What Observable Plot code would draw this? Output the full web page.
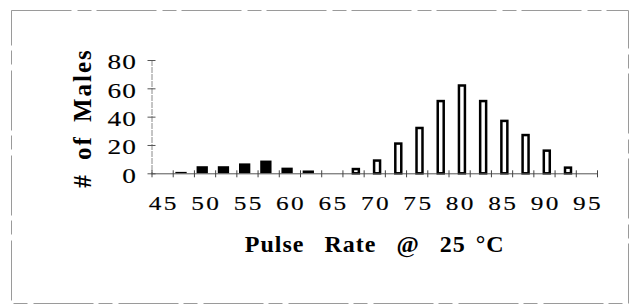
<!DOCTYPE html>
<html>
<head>
<meta charset="utf-8">
<script src="https://cdn.jsdelivr.net/npm/d3@7"></script>
<script src="https://cdn.jsdelivr.net/npm/@observablehq/plot@0.6"></script>
<style>
  html, body { margin: 0; padding: 0; background: #fff; }
  #chart svg { display: block; }
</style>
</head>
<body>
<div id="chart"></div>
<script>
// Pulse-rate classes (bin centres, step 2.5)
const categories = [45, 47.5, 50, 52.5, 55, 57.5, 60, 62.5, 65, 67.5, 70, 72.5, 75, 77.5, 80, 82.5, 85, 87.5, 90, 92.5, 95];
const step = 2.5;
// Series A (filled black bars)
const rateA = [47.5, 50, 52.5, 55, 57.5, 60, 62.5];
const countA = [1, 5, 5, 7, 9, 4, 2];
// Series B (open bars)
const rateB = [67.5, 70, 72.5, 75, 77.5, 80, 82.5, 85, 87.5, 90, 92.5];
const countB = [3, 9, 21, 32, 51, 62, 51, 37, 27, 16, 4];
// Tick labels
const xTickLabels = [45, 50, 55, 60, 65, 70, 75, 80, 85, 90, 95];
const yTickLabels = [0, 20, 40, 60, 80];
const xTitle = "Pulse  Rate  @  25 °C";
const yTitle = "# of Males";

const dataA = rateA.map((r, i) => ({rate: r, count: countA[i]}));
const dataB = rateB.map((r, i) => ({rate: r, count: countB[i]}));
const boundaries = categories.map(c => c - step / 2).concat([categories[categories.length - 1] + step / 2]);

const font = "'Liberation Serif', 'Times New Roman', serif";

const chart = Plot.plot({
  width: 631,
  height: 305,
  marginLeft: 151.5,
  marginRight: 34,
  marginTop: 60,
  marginBottom: 131.7,
  style: {fontFamily: font, background: "#fff", color: "#000", overflow: "visible"},
  x: {domain: [categories[0] - step / 2, categories[categories.length - 1] + step / 2]},
  y: {domain: [0, 80]},
  marks: [
    Plot.frame({anchor: "left", stroke: "#8a8a8a", strokeDasharray: "5 2"}),
    Plot.rectY(dataA, {x1: d => d.rate - step / 2, x2: d => d.rate + step / 2, y: "count", fill: "#000", insetLeft: 2.65, insetRight: 7.26}),
    Plot.rectY(dataB, {x1: d => d.rate - step / 2, x2: d => d.rate + step / 2, y: "count", fill: "#fff", stroke: "#000", strokeWidth: 2.5, insetLeft: 10.45, insetRight: 4.8}),
    Plot.ruleY([0], {stroke: "#555", strokeWidth: 1}),
    Plot.axisX({ticks: boundaries, tickSize: 7, dy: -3, fill: "none", label: null, stroke: "#444"}),
    Plot.axisX({ticks: xTickLabels, tickSize: 0, tickPadding: 22.4, fontSize: 19.5, label: null, tickFormat: d => String(d), dx: 1.2}),
    Plot.axisY({ticks: yTickLabels, tickSize: 8, dx: 4, fill: "none", label: null, stroke: "#555"}),
    Plot.axisY({ticks: yTickLabels, tickSize: 0, tickPadding: 14.7, fontSize: 21, label: null, dy: 2}),
    Plot.text([xTitle], {frameAnchor: "bottom", dy: 78.4, lineAnchor: "bottom", textAnchor: "middle", fontSize: 24, fontWeight: "bold"}),
    Plot.text([yTitle], {frameAnchor: "left", rotate: -90, dx: -61, dy: 0.85, lineAnchor: "bottom", textAnchor: "middle", fontSize: 25, fontWeight: "bold"})
  ]
});

function stretch(el, sx, sy) {
  const t = el.getAttribute("transform") || "";
  const x = parseFloat(el.getAttribute("x")) || 0;
  const y = parseFloat(el.getAttribute("y")) || 0;
  el.setAttribute("transform", `${t} translate(${x},${y}) scale(${sx},${sy}) translate(${-x},${-y})`);
}

const xStrings = new Set(xTickLabels.map(String));
const yStrings = new Set(yTickLabels.map(String));
chart.querySelectorAll("text").forEach(el => {
  const s = el.textContent.trim();
  const isY = el.getAttribute("text-anchor") === "end" || (el.parentNode && el.parentNode.getAttribute("text-anchor") === "end");
  if (yStrings.has(s) && isY) {
    el.style.letterSpacing = "1px";
    el.style.stroke = "#000";
    el.style.strokeWidth = "0.15px";
    stretch(el, 1.3, 1);
  } else if (xStrings.has(s)) {
    el.style.letterSpacing = "1.8px";
    el.style.stroke = "#000";
    el.style.strokeWidth = "0.15px";
    stretch(el, 1.3, 1);
  } else if (s === xTitle.trim()) {
    el.style.whiteSpace = "pre";
    el.setAttribute("xml:space", "preserve");
    el.style.letterSpacing = "1px";
    el.style.wordSpacing = "3px";
  } else if (s === yTitle) {
    el.style.letterSpacing = "2px";
    el.style.wordSpacing = "5px";
  }
});

// faint scanned border around the whole figure
d3.select(chart).append("rect")
  .attr("x", 11.5).attr("y", 10.5)
  .attr("width", 617).attr("height", 293)
  .attr("fill", "none")
  .attr("stroke", "#9a9a9a")
  .attr("stroke-width", 1)
  .attr("stroke-dasharray", "60 6 14 5");

document.getElementById("chart").appendChild(chart);
</script>
</body>
</html>
